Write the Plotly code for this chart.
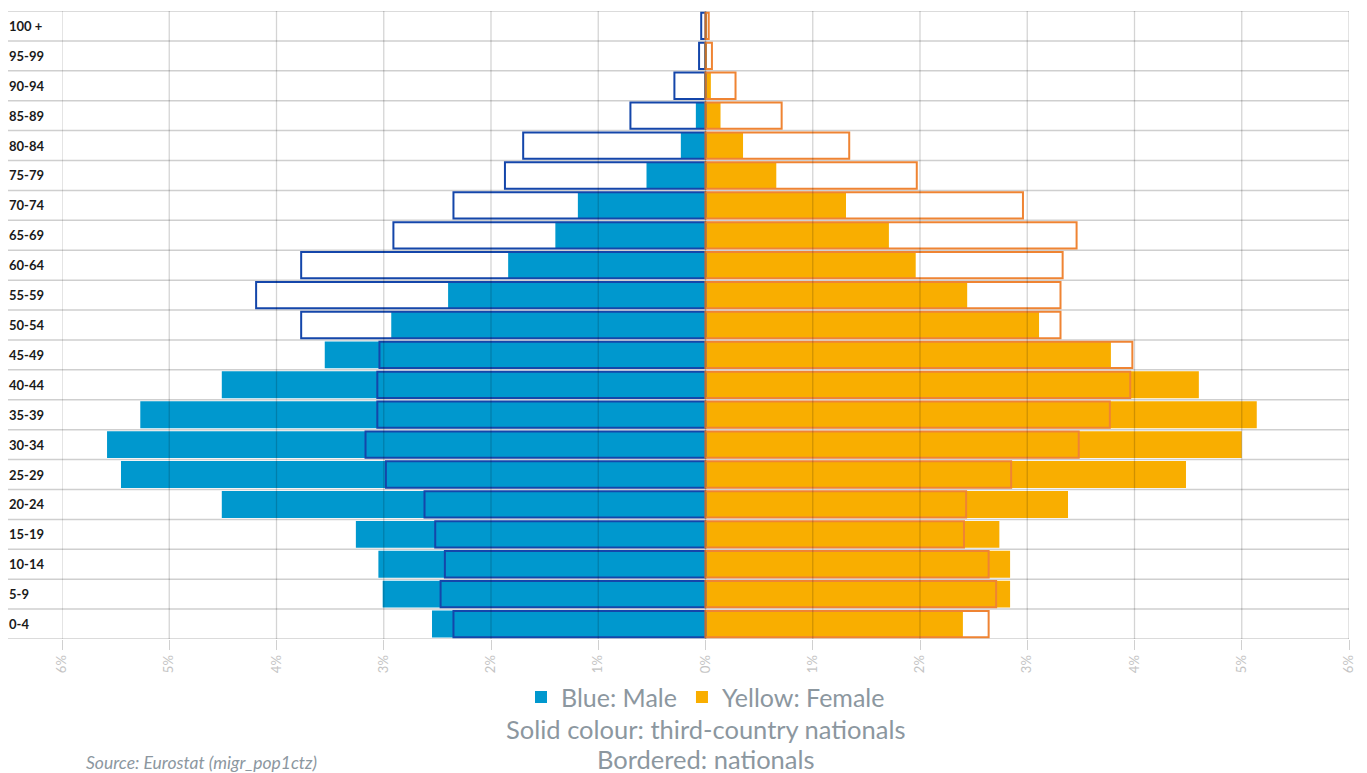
import plotly.graph_objects as go

age_groups = ["0-4", "5-9", "10-14", "15-19", "20-24", "25-29", "30-34", "35-39",
              "40-44", "45-49", "50-54", "55-59", "60-64", "65-69", "70-74",
              "75-79", "80-84", "85-89", "90-94", "95-99", "100 +"]

# percentages of total population (bottom age group first)
male_tcn = [2.55, 3.01, 3.05, 3.26, 4.51, 5.45, 5.58, 5.27, 4.51, 3.55, 2.93,
            2.40, 1.84, 1.40, 1.19, 0.55, 0.23, 0.09, 0.01, 0.005, 0.002]
male_nat = [2.35, 2.47, 2.43, 2.52, 2.62, 2.98, 3.17, 3.06, 3.06, 3.04, 3.77,
            4.19, 3.77, 2.91, 2.35, 1.87, 1.70, 0.70, 0.29, 0.06, 0.04]
female_tcn = [2.40, 2.84, 2.84, 2.74, 3.38, 4.48, 5.00, 5.14, 4.60, 3.78, 3.11,
              2.44, 1.96, 1.71, 1.31, 0.66, 0.35, 0.14, 0.05, 0.01, 0.005]
female_nat = [2.64, 2.71, 2.64, 2.41, 2.43, 2.85, 3.48, 3.77, 3.96, 3.98, 3.31,
              3.31, 3.33, 3.46, 2.96, 1.97, 1.34, 0.71, 0.28, 0.06, 0.03]

tick_values = [-6, -5, -4, -3, -2, -1, 0, 1, 2, 3, 4, 5, 6]
tick_labels = ["6%", "5%", "4%", "3%", "2%", "1%", "0%", "1%", "2%", "3%", "4%", "5%", "6%"]

MALE = "#0098CE"
MALE_LINE = "#1446AA"
FEMALE = "#F9AE00"
FEMALE_LINE = "#EF8433"
TEXT_GREY = "#8C979F"

fig = go.Figure()
fig.add_trace(go.Bar(y=age_groups, x=[-v for v in male_tcn], orientation="h",
                     name="Blue: Male", marker=dict(color=MALE, line=dict(width=0)),
                     width=0.9, showlegend=True))
fig.add_trace(go.Bar(y=age_groups, x=female_tcn, orientation="h",
                     name="Yellow: Female", marker=dict(color=FEMALE, line=dict(width=0)),
                     width=0.9, showlegend=True))
fig.add_trace(go.Bar(y=age_groups, x=[-v for v in male_nat], orientation="h",
                     name="Male nationals",
                     marker=dict(color="rgba(0,0,0,0)", line=dict(color=MALE_LINE, width=2)),
                     width=0.88, showlegend=False))
fig.add_trace(go.Bar(y=age_groups, x=female_nat, orientation="h",
                     name="Female nationals",
                     marker=dict(color="rgba(0,0,0,0)", line=dict(color=FEMALE_LINE, width=2)),
                     width=0.88, showlegend=False))

shapes = []
# vertical grid lines drawn above the bars
for tv in tick_values:
    shapes.append(dict(type="line", xref="x", yref="paper", x0=tv, x1=tv, y0=0, y1=1,
                       line=dict(color="rgba(0,0,0,0.17)", width=1.3), layer="above"))
# horizontal category boundaries extending under the labels
for i in range(len(age_groups) + 1):
    shapes.append(dict(type="line", xref="paper", yref="y", x0=-0.042, x1=1,
                       y0=i - 0.5, y1=i - 0.5,
                       line=dict(color="#CFCFCF", width=1.5), layer="below"))

annotations = []
for ag in age_groups:
    annotations.append(dict(text=ag, xref="paper", yref="y", x=-0.043, y=ag,
                            xanchor="left", yanchor="middle", showarrow=False,
                            font=dict(family="Lato", size=13, color="#1a1a1a", weight="bold")))
annotations.append(dict(text="Solid colour: third-country nationals", xref="paper", yref="paper",
                        x=0.5, y=-0.1433, xanchor="center", yanchor="middle", showarrow=False,
                        font=dict(family="Lato", size=25.5, color=TEXT_GREY)))
annotations.append(dict(text="Bordered: nationals", xref="paper", yref="paper",
                        x=0.5, y=-0.191, xanchor="center", yanchor="middle", showarrow=False,
                        font=dict(family="Lato", size=25.5, color=TEXT_GREY)))
annotations.append(dict(text="<i>Source: Eurostat (migr_pop1ctz)</i>", xref="paper", yref="paper",
                        x=0.0171, y=-0.196, xanchor="left", yanchor="middle", showarrow=False,
                        font=dict(family="Lato", size=17.5, color=TEXT_GREY)))

fig.update_layout(
    width=1359, height=765,
    margin=dict(l=54, r=18, t=3, b=134),
    paper_bgcolor="white", plot_bgcolor="white",
    barmode="overlay",
    bargap=0.1,
    shapes=shapes,
    annotations=annotations,
    legend=dict(orientation="h", x=0.5, xanchor="center", y=-0.056, yanchor="top",
                font=dict(family="Lato", size=25, color=TEXT_GREY),
                traceorder="normal", itemclick=False, itemdoubleclick=False),
    xaxis=dict(range=[-6, 6], tickvals=tick_values, ticktext=tick_labels,
               showgrid=False, zeroline=False, tickangle=-90,
               ticks="outside", ticklen=10, tickcolor="#D0D0D0",
               tickfont=dict(family="Lato", size=13, color="#C4C4C4"),
               showline=False, fixedrange=True),
    yaxis=dict(categoryorder="array", categoryarray=age_groups,
               range=[-0.5, len(age_groups) - 0.5],
               showticklabels=False, showgrid=False, zeroline=False,
               ticks="", showline=False, fixedrange=True),
    showlegend=True,
)

fig.write_html("out.html")
